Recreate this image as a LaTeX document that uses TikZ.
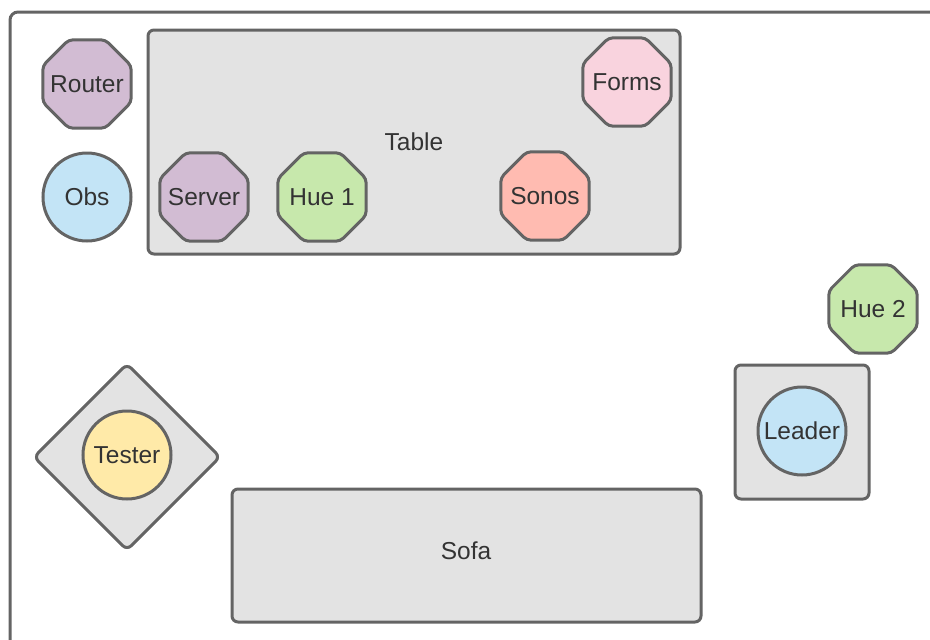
\documentclass[tikz,border=0pt]{standalone}
\usepackage{fontspec}
\setmainfont{Liberation Sans}
\usetikzlibrary{shapes.geometric}

\definecolor{edge}{HTML}{646464}
\definecolor{ink}{HTML}{333333}
\definecolor{greyfill}{HTML}{E3E3E3}
\definecolor{purplefill}{HTML}{D2BCD3}
\definecolor{bluefill}{HTML}{C3E4F6}
\definecolor{greenfill}{HTML}{C7E8AC}
\definecolor{salmonfill}{HTML}{FFBBB1}
\definecolor{pinkfill}{HTML}{F9D3DE}
\definecolor{yellowfill}{HTML}{FFEAA8}

\tikzset{
  labeltext/.style={text=ink, inner sep=0pt, font=\fontsize{24.5}{29}\selectfont},
  base/.style={labeltext, draw=edge, line width=3pt},
  furniture/.style={base, fill=greyfill, rectangle, rounded corners=6pt},
  device/.style={base, regular polygon, regular polygon sides=8,
    minimum size=95.5, inner sep=-15pt, rounded corners=4pt},
  person/.style={base, circle, minimum size=88},
}

\begin{document}
\begin{tikzpicture}[x=1pt, y=-1pt]
  \useasboundingbox (0,0) rectangle (930,640);
  \clip (0,0) rectangle (930,640);

  % room outline, running past the right and bottom edges
  \draw[draw=edge, line width=3pt, rounded corners=8pt]
    (10,700) -- (10,12) -- (990,12);

  % furniture
  \node[furniture, minimum width=532, minimum height=224] (table) at (414,142) {Table};
  \node[furniture, minimum width=469, minimum height=133] (sofa) at (466.5,555.5) {};
  \node[labeltext] (sofalabel) at (466,551) {Sofa};
  \node[furniture, minimum width=134, minimum height=134] (desk) at (802,432) {};
  \draw[draw=edge, fill=greyfill, line width=3pt, rounded corners=6pt]
    (127,364) -- (220,457) -- (127,550) -- (34,457) -- cycle;
  \coordinate (stand) at (127,457);

  % devices
  \node[device, fill=purplefill] (router) at (87,84) {Router};
  \node[device, fill=purplefill] (server) at (204,197) {Server};
  \node[device, fill=greenfill] (hue1) at (322,197) {Hue 1};
  \node[device, fill=salmonfill] (sonos) at (545,196) {Sonos};
  \node[device, fill=pinkfill] (forms) at (627,82) {Forms};
  \node[device, fill=greenfill] (hue2) at (873,309) {Hue 2};

  % people
  \node[person, fill=bluefill] (obs) at (87,197) {Obs};
  \node[person, fill=bluefill] (leader) at (802,431) {Leader};
  \node[person, fill=yellowfill] (tester) at (127,455) {Tester};
\end{tikzpicture}
\end{document}
